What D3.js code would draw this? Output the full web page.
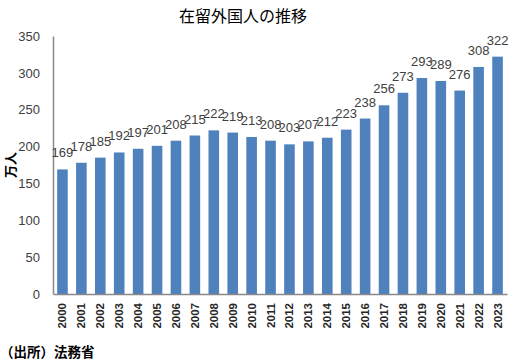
<!DOCTYPE html>
<html><head><meta charset="utf-8">
<script src="https://cdn.jsdelivr.net/npm/d3@7"></script>
<style>body{margin:0;background:#fff}svg{display:block}</style>
</head><body>
<script>
const years = ["2000","2001","2002","2003","2004","2005","2006","2007","2008","2009","2010","2011","2012","2013","2014","2015","2016","2017","2018","2019","2020","2021","2022","2023"];
const values = [169,178,185,192,197,201,208,215,222,219,213,208,203,207,212,223,238,256,273,293,289,276,308,322];
const yTicks = [0,50,100,150,200,250,300,350];
const title = "在留外国人の推移";
const yLabel = "万人";
const source = "（出所）法務省";

(function(){
const W = 512, H = 364;
const svg = d3.select("body").append("svg").attr("width", W).attr("height", H);
const mLeft = 53, mRight = 507, mTop = 36, mBottom = 294;
const x = d3.scaleBand().domain(years).range([mLeft, mRight]).paddingInner(0.44).paddingOuter(0.22);
const y = d3.scaleLinear().domain([0, 350]).range([mBottom, mTop]);

svg.append("text").attr("x", 243).attr("y", 22).attr("text-anchor", "middle")
  .attr("font-family", "Noto Sans CJK JP").attr("font-size", 16).attr("font-weight", 400)
  .attr("fill", "#000").text(title);

const ya = svg.append("g").attr("transform", `translate(${mLeft},0)`)
  .call(d3.axisLeft(y).tickValues(yTicks).tickSize(0).tickPadding(13));
ya.select(".domain").attr("stroke", "#898989").attr("stroke-width", 1.5);
ya.selectAll("text").attr("font-family", "Liberation Sans").attr("font-size", 13).attr("fill", "#404040");

svg.selectAll("rect.bar").data(values).enter().append("rect").attr("class", "bar")
  .attr("x", (d, i) => x(years[i])).attr("width", x.bandwidth())
  .attr("y", d => y(d)).attr("height", d => mBottom - y(d)).attr("fill", "#4f81bd");

const xa = svg.append("g").attr("transform", `translate(0,${mBottom})`)
  .call(d3.axisBottom(x).tickSize(0).tickPadding(0));
xa.select(".domain").attr("stroke", "#898989").attr("stroke-width", 1.5);
xa.selectAll("text").attr("font-family", "Liberation Sans").attr("font-size", 11.5).attr("font-weight", "bold")
  .attr("fill", "#262626").attr("text-anchor", "end").attr("dy", null).attr("y", 0)
  .attr("transform", "translate(4,9) rotate(-90)");

svg.selectAll("text.val").data(values).enter().append("text").attr("class", "val")
  .attr("x", (d, i) => x(years[i]) + x.bandwidth() / 2).attr("y", d => y(d) - 12)
  .attr("text-anchor", "middle").attr("font-family", "Liberation Sans")
  .attr("font-size", 13).attr("fill", "#404040").text(d => d);

svg.append("text").attr("transform", "translate(15,165) rotate(-90)").attr("text-anchor", "middle")
  .attr("font-family", "Noto Sans CJK JP").attr("font-size", 13).attr("font-weight", "bold").text(yLabel);

svg.append("text").attr("x", 0).attr("y", 357)
  .attr("font-family", "Noto Sans CJK JP").attr("font-size", 13.5).attr("font-weight", "bold").text(source);
})();
</script>
</body></html>
